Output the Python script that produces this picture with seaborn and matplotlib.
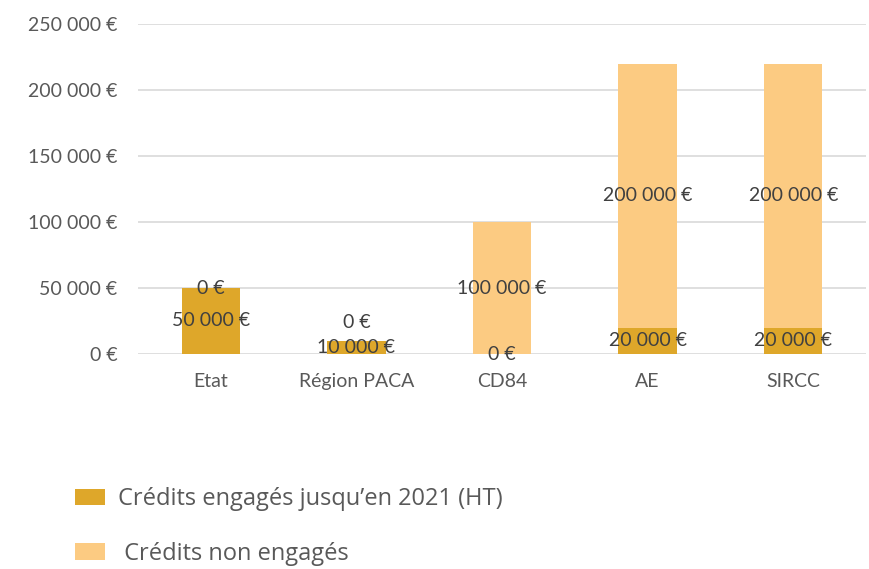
import matplotlib
matplotlib.use("Agg")
import matplotlib.pyplot as plt
import seaborn as sns
import pandas as pd
from matplotlib.patches import Patch

categories = ["Etat", "Région PACA", "CD84", "AE", "SIRCC"]
engages = [50000, 10000, 0, 20000, 20000]
non_engages = [0, 0, 100000, 200000, 200000]
yticks = [0, 50000, 100000, 150000, 200000, 250000]
legend_labels = ["Crédits engagés jusqu’en 2021 (HT)", " Crédits non engagés"]

C_DARK = "#DEA72A"
C_LIGHT = "#FCCB82"

def fmt(v):
    return f"{int(v):,}".replace(",", " ") + " €"

sns.set_theme(style="white")
plt.rcParams["font.family"] = ["Lato", "DejaVu Sans"]

df = pd.DataFrame({"cat": categories, "eng": engages, "non": non_engages})
df["total"] = df["eng"] + df["non"]

fig = plt.figure(figsize=(8.69, 5.69), dpi=100)
ax = fig.add_axes([138/869, 1-354/569, (866-138)/869, (354-24)/569])

sns.barplot(data=df, x="cat", y="total", color=C_LIGHT, width=0.40, ax=ax,
            saturation=1, order=categories, zorder=2, linewidth=0, edgecolor="none")
sns.barplot(data=df, x="cat", y="eng", color=C_DARK, width=0.40, ax=ax,
            saturation=1, order=categories, zorder=3, linewidth=0, edgecolor="none")

ax.set_ylim(0, 250000)
ax.set_xlim(-0.5, len(categories) - 0.5)
ax.set_yticks(yticks)
ax.set_yticklabels([fmt(v) for v in yticks])
ax.yaxis.grid(True, color="#D9D9D9", linewidth=1.2, zorder=0)
ax.set_axisbelow(True)
for s in ax.spines.values():
    s.set_visible(False)
ax.set_xlabel("")
ax.set_ylabel("")
ax.tick_params(axis="both", length=0, labelsize=14, colors="#595959")
ax.tick_params(axis="y", pad=15)
ax.tick_params(axis="x", pad=14)

lab_kw = dict(ha="center", va="center", fontsize=14, color="#404040", zorder=5)
for i, (e, n) in enumerate(zip(engages, non_engages)):
    ax.annotate(fmt(e), (i, e / 2), textcoords="offset points", xytext=(0, 0), **lab_kw)
    dy = 0
    if n == 0 and 0 < e < 30000:
        dy = 13
    ax.annotate(fmt(n), (i, e + n / 2), textcoords="offset points", xytext=(0, dy), **lab_kw)

handles = [Patch(facecolor=C_DARK, edgecolor="none"), Patch(facecolor=C_LIGHT, edgecolor="none")]
fig.legend(handles, legend_labels, loc="upper left", bbox_to_anchor=(54/869, 1-466/569),
           frameon=False, labelspacing=1.3, handlelength=1.27, handleheight=0.73,
           handletextpad=0.55, prop={"family": ["Open Sans", "DejaVu Sans"], "size": 17},
           labelcolor="#595959")

fig.savefig("out.png", dpi=100)
